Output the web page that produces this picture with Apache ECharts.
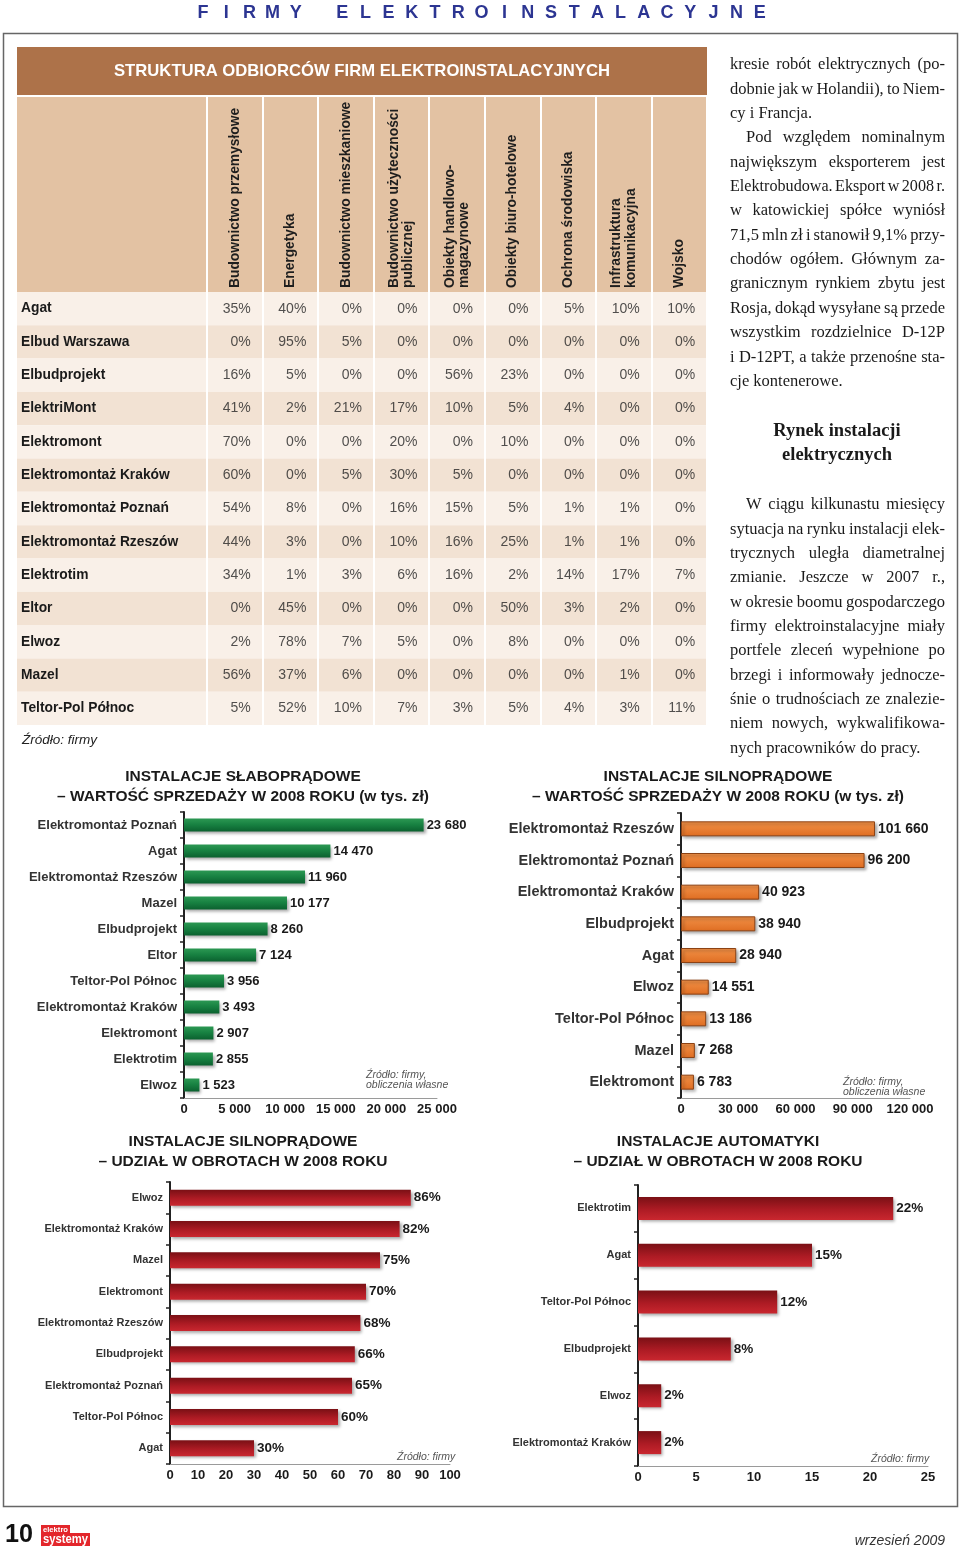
<!DOCTYPE html>
<html>
<head>
<meta charset="utf-8">
<script src="https://cdn.jsdelivr.net/npm/echarts@6/dist/echarts.min.js"></script>
<style>
html,body{margin:0;padding:0;background:#fff;}
#page{width:960px;height:1552px;}
</style>
</head>
<body>
<div id="page"></div>
<script>
// ---------------- DATA ----------------
const pageTitle = 'FIRMY ELEKTROINSTALACYJNE';
const tableTitle = 'STRUKTURA ODBIORCÓW FIRM ELEKTROINSTALACYJNYCH';
const tableSource = 'Źródło: firmy';

const tableColumns = [
  'Budownictwo przemysłowe', 'Energetyka', 'Budownictwo mieszkaniowe',
  'Budownictwo użyteczności\npublicznej', 'Obiekty handlowo-\nmagazynowe',
  'Obiekty biuro-hotelowe', 'Ochrona środowiska',
  'Infrastruktura\nkomunikacyjna', 'Wojsko'
];
const tableFirms = [
  'Agat', 'Elbud Warszawa', 'Elbudprojekt', 'ElektriMont', 'Elektromont',
  'Elektromontaż Kraków', 'Elektromontaż Poznań', 'Elektromontaż Rzeszów',
  'Elektrotim', 'Eltor', 'Elwoz', 'Mazel', 'Teltor-Pol Północ'
];
const tableShares = [
  [35, 40, 0, 0, 0, 0, 5, 10, 10],
  [0, 95, 5, 0, 0, 0, 0, 0, 0],
  [16, 5, 0, 0, 56, 23, 0, 0, 0],
  [41, 2, 21, 17, 10, 5, 4, 0, 0],
  [70, 0, 0, 20, 0, 10, 0, 0, 0],
  [60, 0, 5, 30, 5, 0, 0, 0, 0],
  [54, 8, 0, 16, 15, 5, 1, 1, 0],
  [44, 3, 0, 10, 16, 25, 1, 1, 0],
  [34, 1, 3, 6, 16, 2, 14, 17, 7],
  [0, 45, 0, 0, 0, 50, 3, 2, 0],
  [2, 78, 7, 5, 0, 8, 0, 0, 0],
  [56, 37, 6, 0, 0, 0, 0, 1, 0],
  [5, 52, 10, 7, 3, 5, 4, 3, 11]
];

const lowCurrentTitle = ['INSTALACJE SŁABOPRĄDOWE', '– WARTOŚĆ SPRZEDAŻY W 2008 ROKU (w tys. zł)'];
const lowCurrentFirms = ['Elektromontaż Poznań', 'Agat', 'Elektromontaż Rzeszów', 'Mazel', 'Elbudprojekt', 'Eltor', 'Teltor-Pol Północ', 'Elektromontaż Kraków', 'Elektromont', 'Elektrotim', 'Elwoz'];
const lowCurrentSales = [23680, 14470, 11960, 10177, 8260, 7124, 3956, 3493, 2907, 2855, 1523];
const lowCurrentTicks = [0, 5000, 10000, 15000, 20000, 25000];
const lowCurrentSource = ['Źródło: firmy,', 'obliczenia własne'];

const highCurrentTitle = ['INSTALACJE SILNOPRĄDOWE', '– WARTOŚĆ SPRZEDAŻY W 2008 ROKU (w tys. zł)'];
const highCurrentFirms = ['Elektromontaż Rzeszów', 'Elektromontaż Poznań', 'Elektromontaż Kraków', 'Elbudprojekt', 'Agat', 'Elwoz', 'Teltor-Pol Północ', 'Mazel', 'Elektromont'];
const highCurrentSales = [101660, 96200, 40923, 38940, 28940, 14551, 13186, 7268, 6783];
const highCurrentTicks = [0, 30000, 60000, 90000, 120000];
const highCurrentSource = ['Źródło: firmy,', 'obliczenia własne'];

const highShareTitle = ['INSTALACJE SILNOPRĄDOWE', '– UDZIAŁ W OBROTACH W 2008 ROKU'];
const highShareFirms = ['Elwoz', 'Elektromontaż Kraków', 'Mazel', 'Elektromont', 'Elektromontaż Rzeszów', 'Elbudprojekt', 'Elektromontaż Poznań', 'Teltor-Pol Północ', 'Agat'];
const highShareValues = [86, 82, 75, 70, 68, 66, 65, 60, 30];
const highShareTicks = [0, 10, 20, 30, 40, 50, 60, 70, 80, 90, 100];
const highShareSource = ['Źródło: firmy'];

const autoShareTitle = ['INSTALACJE AUTOMATYKI', '– UDZIAŁ W OBROTACH W 2008 ROKU'];
const autoShareFirms = ['Elektrotim', 'Agat', 'Teltor-Pol Północ', 'Elbudprojekt', 'Elwoz', 'Elektromontaż Kraków'];
const autoShareValues = [22, 15, 12, 8, 2, 2];
const autoShareTicks = [0, 5, 10, 15, 20, 25];
const autoShareSource = ['Źródło: firmy'];

const textParagraphs = [
  {indent: 0, lines: [
    'kresie robót elektrycznych (po-',
    'dobnie jak w Holandii), to Niem-',
    'cy i Francja.']},
  {indent: 16, lines: [
    'Pod względem nominalnym',
    'największym eksporterem jest',
    'Elektrobudowa. Eksport w 2008 r.',
    'w katowickiej spółce wyniósł',
    '71,5 mln zł i stanowił 9,1% przy-',
    'chodów ogółem. Głównym za-',
    'granicznym rynkiem zbytu jest',
    'Rosja, dokąd wysyłane są przede',
    'wszystkim rozdzielnice D-12P',
    'i D-12PT, a także przenośne sta-',
    'cje kontenerowe.']},
  {indent: 16, lines: [
    'W ciągu kilkunastu miesięcy',
    'sytuacja na rynku instalacji elek-',
    'trycznych uległa diametralnej',
    'zmianie. Jeszcze w 2007 r.,',
    'w okresie boomu gospodarczego',
    'firmy elektroinstalacyjne miały',
    'portfele zleceń wypełnione po',
    'brzegi i informowały jednocze-',
    'śnie o trudnościach ze znalezie-',
    'niem nowych, wykwalifikowa-',
    'nych pracowników do pracy.']}
];
const textHeading = ['Rynek instalacji', 'elektrycznych'];
const pageNumber = '10';
const logoText = ['elektro', 'systemy'];
const issueDate = 'wrzesień 2009';

// ---------------- STYLE / LAYOUT ----------------
const SANS = '"Liberation Sans", Arial, Helvetica, sans-serif';
const SERIF = '"Liberation Serif", "Times New Roman", serif';
const spaced = v => String(v).replace(/\B(?=(\d{3})+(?!\d))/g, ' ');

const measureCtx = document.createElement('canvas').getContext('2d');
function textWidth(str, font) { measureCtx.font = font; return measureCtx.measureText(str).width; }

function txt(x, y, text, font, fill, align, extra) {
  return Object.assign({
    type: 'text', x: x, y: y, z: 10,
    style: {text: text, font: font, fill: fill,
      align: align || 'left', verticalAlign: 'middle',
      textAlign: align || 'left', textVerticalAlign: 'middle'}
  }, extra || {});
}

const graphics = [];
// page frame
graphics.push({type: 'rect', z: 0, shape: {x: 3.5, y: 33.5, width: 954, height: 1473},
  style: {fill: 'none', stroke: '#666', lineWidth: 1.5}});
// top title, letter-spaced
pageTitle.split('').forEach((ch, i) => {
  if (ch === ' ') return;
  graphics.push(txt(203 + i * 23.2, 13, ch, 'bold 18px ' + SANS, '#2c3592', 'center'));
});
// table title band
graphics.push({type: 'rect', z: 0, shape: {x: 17, y: 47, width: 690, height: 48}, style: {fill: '#ad7249'}});
(function () {
  const f = 'bold 17px ' + SANS;
  const s = 496 / textWidth(tableTitle, f);
  graphics.push(txt(362, 71, tableTitle, f, '#ffffff', 'center', {scaleX: s}));
})();
// table header background
graphics.push({type: 'rect', z: 0, shape: {x: 17, y: 97, width: 690, height: 195}, style: {fill: '#e3c2a3'}});
graphics.push(txt(22, 740, tableSource, 'italic 13.5px ' + SANS, '#222', 'left'));

// right text column (justified)
const COL_X = 730, COL_W = 215, LH = 24.35;
const BODY_FONT = '16.5px ' + SERIF;
function layoutParagraph(p, y0) {
  const space = textWidth(' ', BODY_FONT);
  p.lines.forEach((line, i) => {
    const y = y0 + i * LH;
    const x0 = COL_X + (i === 0 ? p.indent : 0);
    const avail = COL_X + COL_W - x0;
    const words = line.split(' ');
    const ww = words.map(w => textWidth(w, BODY_FONT));
    const sum = ww.reduce((a, b) => a + b, 0);
    const isLast = i === p.lines.length - 1;
    let scale = 1, gap = space;
    if (isLast) {
      const nat = sum + space * (words.length - 1);
      if (nat > avail) { scale = avail / nat; gap = space * scale; }
    } else {
      const minGap = space * 0.6;
      const nat = sum + minGap * (words.length - 1);
      if (nat > avail) { scale = avail / nat; gap = minGap * scale; }
      else gap = words.length > 1 ? (avail - sum) / (words.length - 1) : 0;
    }
    let x = x0;
    words.forEach((w, k) => {
      graphics.push(txt(x, y, w, BODY_FONT, '#1a1a1a', 'left', {scaleX: scale}));
      x += ww[k] * scale + gap;
    });
  });
}
layoutParagraph(textParagraphs[0], 65);
layoutParagraph(textParagraphs[1], 65 + 3 * LH);
graphics.push(txt(837, 431, textHeading[0], 'bold 18.5px ' + SERIF, '#1a1a1a', 'center'));
graphics.push(txt(837, 455, textHeading[1], 'bold 18.5px ' + SERIF, '#1a1a1a', 'center'));
layoutParagraph(textParagraphs[2], 505);

// footer
(function () {
  const fNum = 'bold 25px ' + SANS;
  graphics.push(txt(5, 1535, pageNumber, fNum, '#111', 'left', {scaleX: 28 / textWidth(pageNumber, fNum)}));
  graphics.push({type: 'rect', z: 0, shape: {x: 41, y: 1525, width: 29, height: 9}, style: {fill: '#e3262b'}});
  graphics.push({type: 'rect', z: 0, shape: {x: 41, y: 1533, width: 49, height: 13}, style: {fill: '#e3262b'}});
  const f1 = 'bold 8px ' + SANS, f2 = 'bold 13px ' + SANS;
  graphics.push(txt(43, 1529.5, logoText[0], f1, '#fff', 'left', {scaleX: 25 / textWidth(logoText[0], f1)}));
  graphics.push(txt(43, 1539.5, logoText[1], f2, '#fff', 'left', {scaleX: 45 / textWidth(logoText[1], f2)}));
  graphics.push(txt(945, 1541, issueDate, 'italic 14px ' + SANS, '#333', 'right'));
})();

// ---------------- AXES / GRIDS ----------------
const grids = [
  {left: 17, top: 292, width: 690, height: 433},   // 0 table stripes + row labels
  {left: 207, top: 292, width: 500, height: 433},  // 1 table cells
  {left: 207, top: 97, width: 500, height: 195}    // 2 header separators
];
const xAxes = [
  {gridIndex: 0, type: 'value', show: false},
  {gridIndex: 1, type: 'category', data: tableColumns, position: 'top', z: 5,
   axisLine: {show: false}, axisTick: {show: false},
   axisLabel: {interval: 0, rotate: -90, margin: 4, fontFamily: SANS, fontWeight: 'bold', fontSize: 13.8, color: '#1e1e1e', lineHeight: 14.5},
   splitLine: {show: true, interval: 0, lineStyle: {color: '#ffffff', width: 2}}},
  {gridIndex: 2, type: 'category', data: tableColumns, z: 5,
   axisLine: {show: false}, axisTick: {show: false}, axisLabel: {show: false},
   splitLine: {show: true, interval: 0, lineStyle: {color: '#ffffff', width: 2}}}
];
const yAxes = [
  {gridIndex: 0, type: 'category', data: tableFirms, inverse: true, z: 1,
   axisLine: {show: false}, axisTick: {show: false},
   axisLabel: {inside: true, interval: 0, margin: 4, fontFamily: SANS, fontWeight: 'bold', fontSize: 13.8, color: '#1a1a1a'},
   splitLine: {show: false},
   splitArea: {show: true, interval: 0, areaStyle: {color: ['#f9f0e8', '#f2e2d3']}}},
  {gridIndex: 1, type: 'category', data: tableFirms, inverse: true, show: false},
  {gridIndex: 2, type: 'value', show: false}
];
const tableCells = [];
tableShares.forEach((row, r) => row.forEach((v, c) => tableCells.push([c, r, v])));
const series = [{
  type: 'scatter', xAxisIndex: 1, yAxisIndex: 1, silent: true, z: 6,
  symbol: 'rect', symbolSize: [54, 32], itemStyle: {color: 'rgba(0,0,0,0)'},
  label: {show: true, position: 'insideRight', distance: 11, formatter: p => p.value[2] + '%',
    fontFamily: SANS, fontSize: 14, color: '#262626'},
  emphasis: {disabled: true},
  data: tableCells
}];

const palettes = {
  green: {color: new echarts.graphic.LinearGradient(0, 0, 0, 1, [
      {offset: 0, color: '#2c9853'}, {offset: 0.45, color: '#188242'}, {offset: 1, color: '#0b612f'}]),
    borderColor: '#0a4f26', borderWidth: 0},
  orange: {color: new echarts.graphic.LinearGradient(0, 0, 0, 1, [
      {offset: 0, color: '#f29248'}, {offset: 1, color: '#df6d22'}]),
    borderColor: '#8c4214', borderWidth: 1},
  red: {color: new echarts.graphic.LinearGradient(0, 0, 0, 1, [
      {offset: 0, color: '#7a1015'}, {offset: 0.55, color: '#ad1b24'}, {offset: 1, color: '#c9272f'}]),
    borderColor: '#6a0e12', borderWidth: 0}
};

const barCharts = [
  {firms: lowCurrentFirms, values: lowCurrentSales, ticks: lowCurrentTicks, title: lowCurrentTitle, source: lowCurrentSource,
   fmt: spaced, palette: 'green',
   lay: {left: 184, top: 812, width: 253, height: 286, titleX: 243, srcX: 366, srcY: 1075, barWidth: 13, catSize: 13, valSize: 13}},
  {firms: highCurrentFirms, values: highCurrentSales, ticks: highCurrentTicks, title: highCurrentTitle, source: highCurrentSource,
   fmt: spaced, palette: 'orange',
   lay: {left: 681, top: 813, width: 229, height: 285, titleX: 718, srcX: 843, srcY: 1082, barWidth: 15, catSize: 14.5, valSize: 14}},
  {firms: highShareFirms, values: highShareValues, ticks: highShareTicks, title: highShareTitle, source: highShareSource,
   fmt: v => v + '%', palette: 'red',
   lay: {left: 170, top: 1182, width: 280, height: 282, titleX: 243, srcX: 397, srcY: 1457, barWidth: 16, catSize: 11, valSize: 13.5}},
  {firms: autoShareFirms, values: autoShareValues, ticks: autoShareTicks, title: autoShareTitle, source: autoShareSource,
   fmt: v => v + '%', palette: 'red',
   lay: {left: 638, top: 1185, width: 290, height: 281, titleX: 718, srcX: 871, srcY: 1459, barWidth: 23, catSize: 11, valSize: 13.5}}
];
const titleRows = [777, 1142];

barCharts.forEach((bc, k) => {
  const gi = grids.length;
  const L = bc.lay;
  grids.push({left: L.left, top: L.top, width: L.width, height: L.height});
  xAxes.push({gridIndex: gi, type: 'value', min: bc.ticks[0], max: bc.ticks[bc.ticks.length - 1],
    interval: bc.ticks[1] - bc.ticks[0],
    axisLine: {show: true, lineStyle: {color: '#9a9a9a', width: 1}},
    axisTick: {show: false}, splitLine: {show: false},
    axisLabel: {margin: 5, fontFamily: SANS, fontWeight: 'bold', fontSize: 13, color: '#1a1a1a',
      formatter: v => bc.palette === 'red' ? String(v) : spaced(v)}});
  yAxes.push({gridIndex: gi, type: 'category', data: bc.firms, inverse: true,
    axisLine: {show: true, lineStyle: {color: '#222', width: 2}},
    axisTick: {show: true, interval: 0, length: 4, lineStyle: {color: '#222', width: 1.5}},
    axisLabel: {interval: 0, margin: 7, fontFamily: SANS, fontWeight: 'bold', fontSize: L.catSize, color: '#333'}});
  const pal = palettes[bc.palette];
  series.push({type: 'bar', xAxisIndex: gi, yAxisIndex: gi, data: bc.values, barWidth: L.barWidth, silent: true,
    itemStyle: {color: pal.color, borderColor: pal.borderColor, borderWidth: pal.borderWidth,
      shadowColor: 'rgba(0,0,0,0.35)', shadowBlur: 3, shadowOffsetX: 2, shadowOffsetY: 2},
    label: {show: true, position: 'right', distance: 3, formatter: p => bc.fmt(p.value),
      fontFamily: SANS, fontWeight: 'bold', fontSize: L.valSize, color: '#1a1a1a'},
    emphasis: {disabled: true}});
  const ty = titleRows[k < 2 ? 0 : 1];
  graphics.push(txt(L.titleX, ty, bc.title[0], 'bold 15.5px ' + SANS, '#1a1a1a', 'center'));
  graphics.push(txt(L.titleX, ty + 19.5, bc.title[1], 'bold 15.5px ' + SANS, '#1a1a1a', 'center'));
  bc.source.forEach((s, j) => {
    graphics.push(txt(L.srcX, L.srcY + j * 10.5, s, 'italic 10.5px ' + SANS, '#555', 'left'));
  });
});

grids.forEach(g => { g.containLabel = false; g.outerBoundsMode = 'none'; });

const chart = echarts.init(document.getElementById('page'), null, {renderer: 'canvas', devicePixelRatio: 1});
chart.setOption({
  animation: false,
  backgroundColor: '#ffffff',
  textStyle: {fontFamily: SANS},
  grid: grids,
  xAxis: xAxes,
  yAxis: yAxes,
  series: series,
  graphic: {elements: graphics}
});
</script>
</body>
</html>
